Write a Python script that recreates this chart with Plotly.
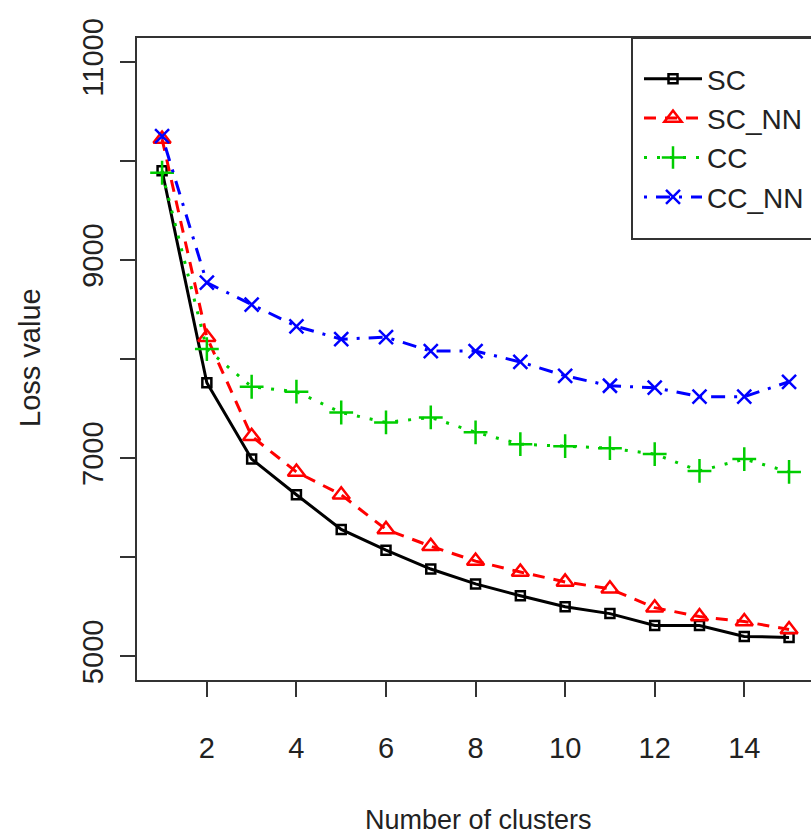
import plotly.graph_objects as go

clusters = list(range(1, 16))
sc = [9900, 7760, 6990, 6630, 6280, 6070, 5880, 5730, 5610, 5500, 5430, 5310, 5310, 5200, 5190]
sc_nn = [10220, 8220, 7220, 6860, 6630, 6280, 6110, 5960, 5850, 5750, 5680, 5490, 5400, 5350, 5270]
cc = [9880, 8100, 7720, 7670, 7460, 7360, 7410, 7260, 7140, 7120, 7100, 7040, 6870, 6990, 6860]
cc_nn = [10250, 8770, 8550, 8330, 8200, 8220, 8080, 8080, 7970, 7830, 7730, 7710, 7620, 7620, 7770]

x_ticks = [2, 4, 6, 8, 10, 12, 14]
y_ticks = [5000, 6000, 7000, 8000, 9000, 10000, 11000]
y_ticktext = ["5000", "", "7000", "", "9000", "", "11000"]

FONT = "Liberation Sans, Arial, sans-serif"
FS = 29

series = [
    ("SC", sc, "#000000", "solid", "square-open", 9),
    ("SC_NN", sc_nn, "#FF0000", "12px,9px", "triangle-up-open", 15),
    ("CC", cc, "#00CD00", "3px,10px", "cross-thin-open", 17),
    ("CC_NN", cc_nn, "#0000FF", "3px,9px,14px,9px", "x-thin-open", 14),
]

fig = go.Figure()
for name, vals, color, dash, sym, size in series:
    fig.add_trace(go.Scatter(
        x=clusters, y=vals, name=name, mode="lines+markers",
        line=dict(color=color, width=3, dash=dash),
        marker=dict(symbol=sym, size=size, color=color,
                    line=dict(color=color, width=2.5)),
        legendgroup=name,
    ))

W, H = 811, 838
L, T, B = 137, 38, 158
pw = W - L
ph = H - T - B


def px_x(p):
    return (p - L) / pw


def px_y(p):
    return (H - B - p) / ph


fig.update_layout(
    width=W, height=H,
    margin=dict(l=L, r=0, t=T, b=B),
    paper_bgcolor="white", plot_bgcolor="white",
    font=dict(family=FONT, size=FS, color="#222222"),
    showlegend=True,
    legend=dict(
        x=px_x(639), y=px_y(54), xanchor="left", yanchor="top",
        borderwidth=0, bgcolor="rgba(0,0,0,0)",
        font=dict(family=FONT, size=FS - 1, color="#222222"),
        itemwidth=58, tracegroupgap=0,
    ),
    shapes=[
        dict(type="rect", xref="paper", yref="paper",
             x0=px_x(632), x1=1.05, y0=px_y(239), y1=1,
             line=dict(color="#333333", width=2), fillcolor="white", layer="below"),
    ],
    xaxis=dict(
        range=[0.44, 15.49], tickvals=x_ticks,
        ticks="outside", ticklen=15, tickwidth=2, tickcolor="#333333",
        showline=True, linecolor="#333333", linewidth=2, mirror=True,
        showgrid=False, zeroline=False, ticklabelstandoff=26,
        tickfont=dict(family=FONT, size=FS, color="#222222"),
    ),
    yaxis=dict(
        range=[4760, 11240], tickvals=y_ticks, ticktext=y_ticktext,
        ticks="outside", ticklen=15, tickwidth=2, tickcolor="#333333",
        showline=True, linecolor="#333333", linewidth=2,
        showgrid=False, zeroline=False, tickangle=-90, ticklabelstandoff=5,
        tickfont=dict(family=FONT, size=FS, color="#222222"),
    ),
    annotations=[
        dict(text="Number of clusters", xref="paper", yref="paper",
             x=px_x(478), y=px_y(820), xanchor="center", yanchor="middle",
             showarrow=False, font=dict(family=FONT, size=27, color="#222222")),
        dict(text="Loss value", xref="paper", yref="paper",
             x=px_x(30), y=px_y(357), xanchor="center", yanchor="middle",
             textangle=-90, showarrow=False, font=dict(family=FONT, size=FS, color="#222222")),
    ],
)

fig.write_html("out.html")
